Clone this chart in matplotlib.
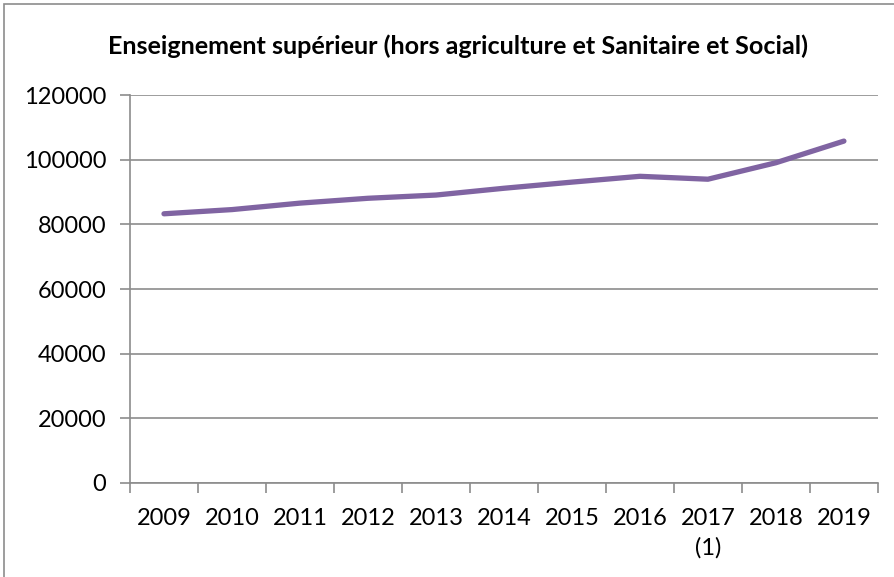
import matplotlib.pyplot as plt
from matplotlib.patches import Rectangle
from matplotlib.ticker import FixedLocator

years = ["2009", "2010", "2011", "2012", "2013", "2014", "2015", "2016", "2017\n(1)", "2018", "2019"]
effectifs = [83300, 84600, 86600, 88100, 89100, 91200, 93100, 94900, 94000, 99100, 105800]

plt.rcParams["font.family"] = ["Lato", "DejaVu Sans"]

fig = plt.figure(figsize=(8.94, 5.77), dpi=100)
ax = fig.add_axes([0.1454, 0.163, 0.8366, 0.672])

x = list(range(len(years)))
ax.plot(x, effectifs, color="#8064A2", linewidth=3.8, solid_capstyle="round")

ax.set_xlim(-0.5, len(years) - 0.5)
ax.set_ylim(0, 120000)
ax.set_yticks(range(0, 120001, 20000))
ax.grid(axis="y", color="#8C8C8C", linewidth=1.2)
ax.set_axisbelow(True)

ax.set_xticks(x)
ax.set_xticklabels(years, fontsize=17, linespacing=1.45)
ax.xaxis.set_minor_locator(FixedLocator([i - 0.5 for i in range(len(years) + 1)]))
ax.tick_params(axis="x", which="major", length=0, pad=18)
ax.tick_params(axis="x", which="minor", length=7, color="#8C8C8C", width=1.2)
ax.tick_params(axis="y", length=7, color="#8C8C8C", width=1.2, labelsize=17, pad=10)

for side in ("top", "right"):
    ax.spines[side].set_visible(False)
for side in ("left", "bottom"):
    ax.spines[side].set_color("#8C8C8C")
    ax.spines[side].set_linewidth(1.2)

fig.text(0.512, 0.92, "Enseignement supérieur (hors agriculture et Sanitaire et Social)",
         ha="center", va="center", fontsize=18.1, fontweight="bold")

# cadre du graphique
fig.patches.append(Rectangle((0.005, -0.05), 1.1, 1.043, transform=fig.transFigure,
                             fill=False, edgecolor="#8C8C8C", linewidth=1.2))

fig.savefig("out.png", dpi=100)
